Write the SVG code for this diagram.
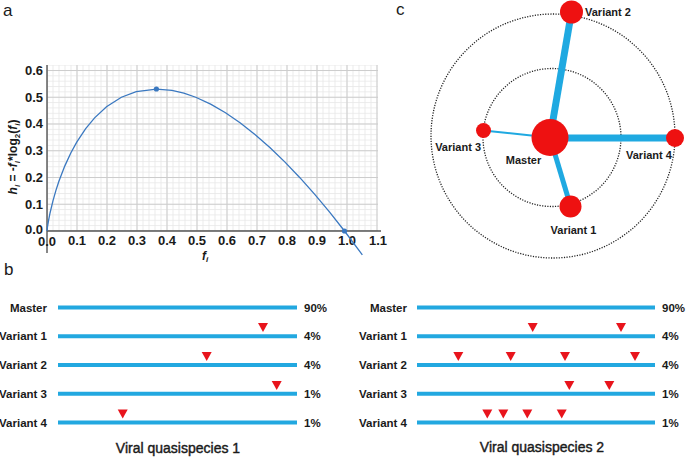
<svg xmlns="http://www.w3.org/2000/svg" width="687" height="458" viewBox="0 0 687 458">
<style>
text{font-family:"Liberation Sans",Arial,sans-serif;fill:#1a1a1a}
.pl{font-size:17px}
.tk{font-size:13px;font-weight:bold}
.lb{font-size:11.5px;font-weight:bold}
.nl{font-size:11px;font-weight:bold}
.tt{font-size:14px;stroke:#1a1a1a;stroke-width:0.4}
.seq{stroke:#22a8e0;stroke-width:4}
.mut{fill:#e8141c}
.node{fill:#ee1111}
.edge{stroke:#1fa9e1;stroke-linecap:butt}
.ring{fill:none;stroke:#222;stroke-width:1.3;stroke-dasharray:1.2 1.4}
</style>
<defs>
<pattern id="minor" patternUnits="userSpaceOnUse" x="46.5" y="230.5" width="6" height="5.35">
<path d="M0.5 0V5.35M0 0.5H6" stroke="#e7e7e7" stroke-width="0.8" fill="none"/>
</pattern>
<pattern id="major" patternUnits="userSpaceOnUse" x="46.5" y="230.5" width="30" height="26.75">
<path d="M0.5 0V26.75M0 0.5H30" stroke="#cdcdcd" stroke-width="1" fill="none"/>
</pattern>
</defs>
<rect width="687" height="458" fill="#fff"/>

<!-- Panel a -->
<g id="panel-a">
<text class="pl" x="3" y="16">a</text>
<rect x="47" y="65" width="331" height="166" fill="url(#minor)"/>
<rect x="47" y="65" width="331" height="166" fill="url(#major)"/>
<path d="M47 65V253M47 231H381" stroke="#555" stroke-width="1.4" fill="none"/>
<g class="tk" text-anchor="end">
<text x="43" y="75">0.6</text>
<text x="43" y="101.5">0.5</text>
<text x="43" y="128.3">0.4</text>
<text x="43" y="155">0.3</text>
<text x="43" y="181.8">0.2</text>
<text x="43" y="208.5">0.1</text>
<text x="43" y="233.5">0.0</text>
</g>
<g class="tk" text-anchor="middle">
<text x="47" y="245.5">0.0</text>
<text x="77" y="245">0.1</text>
<text x="107" y="245">0.2</text>
<text x="137" y="245">0.3</text>
<text x="167" y="245">0.4</text>
<text x="197" y="245">0.5</text>
<text x="227" y="245">0.6</text>
<text x="257" y="245">0.7</text>
<text x="287" y="245">0.8</text>
<text x="317" y="245">0.9</text>
<text x="347" y="245">1.0</text>
<text x="378" y="245">1.1</text>
</g>
<text class="tk" x="205" y="259.5" text-anchor="middle" font-style="italic" style="font-size:12px">f<tspan font-size="8" dy="2.5">i</tspan></text>
<text transform="translate(17,157) rotate(-90)" text-anchor="middle" style="font-size:12px;font-weight:bold"><tspan font-style="italic">h</tspan><tspan font-size="8" dy="3" font-style="italic">i</tspan><tspan dy="-3"> = -</tspan><tspan font-style="italic">f</tspan><tspan font-size="8" dy="3" font-style="italic">i</tspan><tspan dy="-3">*log</tspan><tspan font-size="8" dy="3">2</tspan><tspan dy="-3">(</tspan><tspan font-style="italic">f</tspan><tspan font-size="8" dy="3" font-style="italic">i</tspan><tspan dy="-3">)</tspan></text>
<polyline fill="none" stroke="#3a78c0" stroke-width="1.3" points="47,231 47.15,229.53 47.6,226.2 48.49,220.78 49.98,213.23 52.95,200.8 55.93,190.4 58.9,181.31 64.85,165.86 70.8,153.02 76.75,142.14 85.68,128.64 94.6,117.84 106.5,106.77 121.38,97.25 136.25,91.61 156.45,89.03 171.95,90.39 183.85,93.15 195.75,97.25 210.63,104.1 225.5,112.72 240.38,122.94 255.25,134.65 270.13,147.73 285,162.11 299.88,177.69 314.75,194.41 329.63,212.19 344.5,231 362.35,254.83"/>
<circle cx="156.4" cy="89" r="2.6" fill="#3a78c0"/>
<circle cx="344.5" cy="231" r="2.6" fill="#3a78c0"/>
</g>

<!-- Panel c -->
<text class="pl" x="396" y="15">c</text>
<g id="rings">
<circle class="ring" cx="553" cy="136" r="122"/>
<circle class="ring" cx="552" cy="137.5" r="69"/>
</g>
<g id="connectors">
<line class="edge" x1="550" y1="137.5" x2="571.5" y2="12" stroke-width="7"/>
<line class="edge" x1="550" y1="138" x2="675" y2="138" stroke-width="7"/>
<line class="edge" x1="550" y1="137.5" x2="570.5" y2="206" stroke-width="5"/>
<line class="edge" x1="550" y1="137.5" x2="483.5" y2="130.5" stroke-width="2"/>
</g>
<g id="node-master"><circle class="node" cx="550" cy="137.5" r="18.5"/><text class="nl" x="523.5" y="164" text-anchor="middle">Master</text></g>
<g id="node-variant1"><circle class="node" cx="570.5" cy="206.5" r="11"/><text class="nl" x="573.5" y="233.5" text-anchor="middle">Variant 1</text></g>
<g id="node-variant2"><circle class="node" cx="571.5" cy="12" r="11.5"/><text class="nl" x="585" y="16">Variant 2</text></g>
<g id="node-variant3"><circle class="node" cx="483.5" cy="130.5" r="7.5"/><text class="nl" x="481" y="151" text-anchor="end">Variant 3</text></g>
<g id="node-variant4"><circle class="node" cx="675" cy="138" r="9"/><text class="nl" x="626" y="159">Variant 4</text></g>

<!-- Panel b -->
<text class="pl" x="4" y="275">b</text>
<g id="quasispecies-1">
<g class="seq">
<line x1="58" y1="307.5" x2="297" y2="307.5"/>
<line x1="58" y1="336.3" x2="297" y2="336.3"/>
<line x1="58" y1="365" x2="297" y2="365"/>
<line x1="58" y1="393.8" x2="297" y2="393.8"/>
<line x1="58" y1="422.5" x2="297" y2="422.5"/>
</g>
<g class="lb" text-anchor="end">
<text x="47" y="311.5">Master</text>
<text x="47" y="340.3">Variant 1</text>
<text x="47" y="369">Variant 2</text>
<text x="47" y="397.8">Variant 3</text>
<text x="47" y="426.5">Variant 4</text>
</g>
<g class="lb">
<text x="304" y="311.5">90%</text>
<text x="304" y="340.3">4%</text>
<text x="304" y="369">4%</text>
<text x="304" y="397.8">1%</text>
<text x="304" y="426.5">1%</text>
</g>
<g class="mut">
<polygon points="258,323 268,323 263,332"/>
<polygon points="201.7,352 211.7,352 206.7,361"/>
<polygon points="271.7,381 281.7,381 276.7,390"/>
<polygon points="117.7,409.5 127.7,409.5 122.7,418.5"/>
</g>
<text class="tt" x="178" y="453" text-anchor="middle">Viral quasispecies 1</text>
</g>
<g id="quasispecies-2">
<g class="seq">
<line x1="417" y1="307.5" x2="655" y2="307.5"/>
<line x1="417" y1="336.3" x2="655" y2="336.3"/>
<line x1="417" y1="365" x2="655" y2="365"/>
<line x1="417" y1="393.8" x2="655" y2="393.8"/>
<line x1="417" y1="422.5" x2="655" y2="422.5"/>
</g>
<g class="lb" text-anchor="end">
<text x="407" y="311.5">Master</text>
<text x="407" y="340.3">Variant 1</text>
<text x="407" y="369">Variant 2</text>
<text x="407" y="397.8">Variant 3</text>
<text x="407" y="426.5">Variant 4</text>
</g>
<g class="lb">
<text x="662" y="311.5">90%</text>
<text x="662" y="340.3">4%</text>
<text x="662" y="369">4%</text>
<text x="662" y="397.8">1%</text>
<text x="662" y="426.5">1%</text>
</g>
<g class="mut">
<polygon points="527.7,323 537.7,323 532.7,332"/>
<polygon points="616,323 626,323 621,332"/>
<polygon points="453.3,352 463.3,352 458.3,361"/>
<polygon points="505.7,352 515.7,352 510.7,361"/>
<polygon points="560,352 570,352 565,361"/>
<polygon points="630,352 640,352 635,361"/>
<polygon points="564.3,381 574.3,381 569.3,390"/>
<polygon points="604.3,381 614.3,381 609.3,390"/>
<polygon points="482.3,409.5 492.3,409.5 487.3,418.5"/>
<polygon points="498.3,409.5 508.3,409.5 503.3,418.5"/>
<polygon points="522.3,409.5 532.3,409.5 527.3,418.5"/>
<polygon points="556.7,409.5 566.7,409.5 561.7,418.5"/>
</g>
<text class="tt" x="542" y="452" text-anchor="middle">Viral quasispecies 2</text>
</g>
</svg>
